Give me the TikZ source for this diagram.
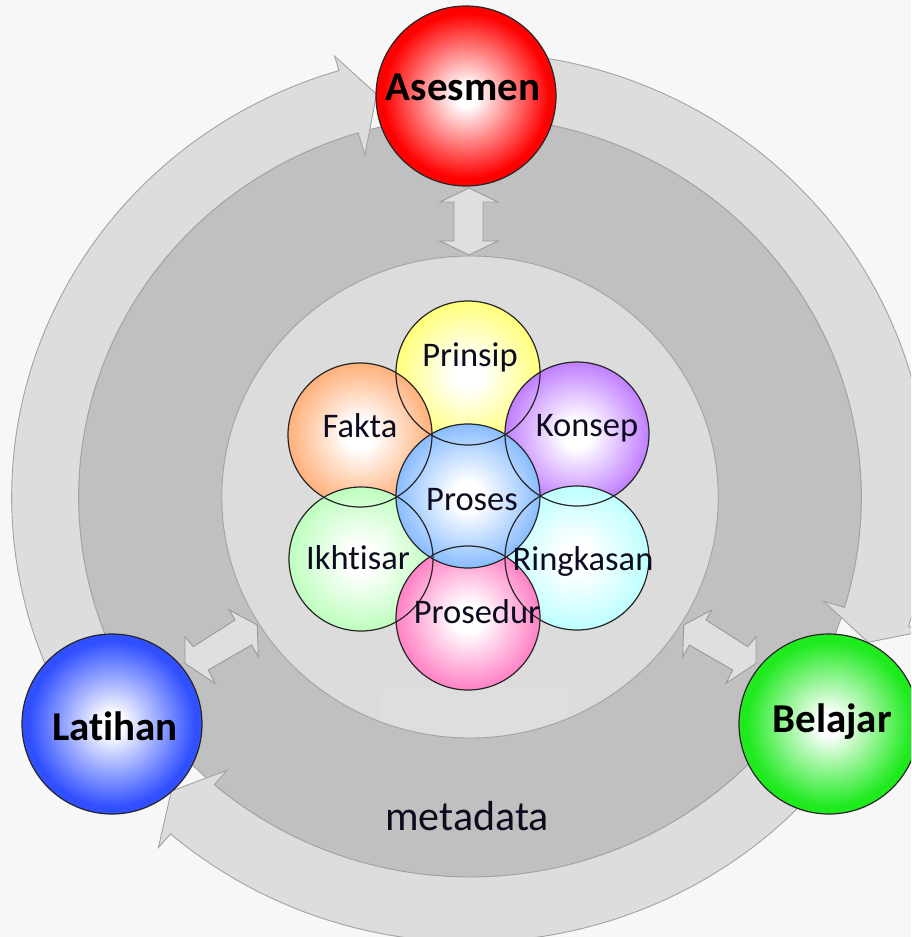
\documentclass[tikz,border=0pt]{standalone}
\usepackage{fontspec}
\setmainfont{Carlito}[Ligatures=NoCommon]
\definecolor{bgc}{HTML}{F7F7F7}
\definecolor{bandc}{HTML}{DDDDDD}
\definecolor{midc}{HTML}{C0C0C0}
\definecolor{innc}{HTML}{DCDCDC}
\definecolor{edgec}{HTML}{A2A2A2}
\definecolor{arrf}{HTML}{DFDFDF}
\definecolor{arre}{HTML}{999999}
\definecolor{redc}{HTML}{FF0000}
\definecolor{bluec}{HTML}{3050FF}
\definecolor{greenc}{HTML}{1EEA1E}
\definecolor{yelc}{HTML}{FFFF7A}
\definecolor{orac}{HTML}{FFB07A}
\definecolor{purc}{HTML}{C07EFF}
\definecolor{proc}{HTML}{88BCFF}
\definecolor{grnc}{HTML}{BEFFBE}
\definecolor{cyac}{HTML}{BEFFFF}
\definecolor{pinc}{HTML}{FF80C4}
\definecolor{txtc}{HTML}{0C0C1E}
\newcommand\mkshade[4]{\pgfdeclareradialshading{#1}{\pgfpoint{0bp}{0bp}}{color(0bp)=(white); color(#3bp)=(white); color(#4bp)=(#2); color(50bp)=(#2)}}
\mkshade{shred}{redc}{3}{23}
\mkshade{shblue}{bluec}{3}{23}
\mkshade{shgreen}{greenc}{3}{23}
\mkshade{shyel}{yelc}{5}{25}
\mkshade{shora}{orac}{5}{25}
\mkshade{shpur}{purc}{5}{25}
\mkshade{shpro}{proc}{5}{25}
\mkshade{shgrn}{grnc}{5}{25}
\mkshade{shcya}{cyac}{5}{25}
\mkshade{shpin}{pinc}{5}{25}
\begin{document}
\begin{tikzpicture}[x=1pt,y=-1pt,
  bandseg/.style={fill=bandc, draw=edgec, line width=0.9pt, line join=miter},
  dbl/.style={fill=arrf, draw=arre, line width=0.9pt, line join=miter},
  ball/.style={circle, minimum size=180pt, inner sep=0pt, draw=black!85, line width=1.2pt},
  bub/.style={circle, minimum size=144pt, inner sep=0pt},
  bubline/.style={draw=black!85, line width=1.2pt},
  bigtxt/.style={font=\fontsize{41}{42}\selectfont\bfseries, anchor=base, text=black, inner sep=0pt},
  smalltxt/.style={font=\fontsize{34.5}{35}\selectfont, anchor=base, text=txtc, inner sep=0pt},
  metatxt/.style={font=\fontsize{42}{43}\selectfont, anchor=base, text=txtc, inner sep=0pt}]
\useasboundingbox (0,0) rectangle (911,937);
\clip (0,0) rectangle (911,937);
\fill[bgc] (0,0) rectangle (911,937);
% rings and circular arrow band
\begin{scope}[shift={(470,497)}, xscale=1.03, yscale=-1]
  \path[fill=midc, draw=edgec, line width=0.9pt] (0,0) circle[radius=380];
  % segment 1: Latihan -> Asesmen
  \path[bandseg] (213:445) arc[start angle=213, end angle=106.6, radius=445]
     -- (106.6:460) -- (102.7:413) -- (106.6:357) -- (106.6:380)
     arc[start angle=106.6, end angle=213, radius=380] -- cycle;
  % segment 2: Asesmen -> Belajar
  \path[bandseg] (90:445) arc[start angle=90, end angle=-16.9, radius=445]
     -- (-16.9:461) -- (-20.6:413) -- (-16.9:359) -- (-16.9:380)
     arc[start angle=-16.9, end angle=90, radius=380] -- cycle;
  % segment 3: Belajar -> Latihan
  \path[bandseg] (327:445) arc[start angle=327, end angle=229.2, radius=445]
     -- (229.2:463) -- (225.4:413) -- (229.2:361) -- (229.2:380)
     arc[start angle=229.2, end angle=327, radius=380] -- cycle;
  \path[fill=innc, draw=edgec, line width=0.9pt] (0,0) circle[radius=241];
  \begin{scope}
    \clip (0,0) circle[radius=240];
    \fill[fill=white, opacity=0.06] (-87,-193) rectangle (95,-260);
  \end{scope}
\end{scope}
% double arrows
\path[dbl] (469,188) -- (498,202) -- (483,202) -- (483,241) -- (498,241) -- (469,255)
   -- (440,241) -- (454,241) -- (454,202) -- (440,202) -- cycle;
\path[dbl] (229.3,610) -- (257.3,625) -- (258.3,656.7) -- (251.7,645) -- (208.3,670)
   -- (215,683.3) -- (185,663.3) -- (185,636.7) -- (193.3,646.7) -- (235,620) -- cycle;
\begin{scope}[shift={(941,0)}, xscale=-1]
\path[dbl] (229.3,610) -- (257.3,625) -- (258.3,656.7) -- (251.7,645) -- (208.3,670)
   -- (215,683.3) -- (185,663.3) -- (185,636.7) -- (193.3,646.7) -- (235,620) -- cycle;
\end{scope}
% central bubbles
\node[bub, shading=shyel] (prinsip) at (468,373) {};
\node[bub, shading=shora] (fakta) at (360,435) {};
\node[bub, shading=shpur] (konsep) at (577,434) {};
\node[bub, shading=shgrn] (ikhtisar) at (361,559) {};
\node[bub, shading=shcya] (ringkasan) at (577,558) {};
\node[bub, shading=shpin] (prosedur) at (468,618) {};
\node[bub, shading=shpro] (proses) at (468,496) {};
\foreach \n in {prinsip,fakta,konsep,ikhtisar,ringkasan,prosedur,proses}
  \draw[bubline] (\n.center) circle[radius=72];
\node[smalltxt] (tprinsip) at (470,366) {Prinsip};
\node[smalltxt] (tfakta) at (360,437) {Fakta};
\node[smalltxt] (tkonsep) at (587,436) {Konsep};
\node[smalltxt] (tproses) at (472,510) {Proses};
\node[smalltxt] (tikhtisar) at (358,569) {Ikhtisar};
\node[smalltxt] (tringkasan) at (583,570) {Ringkasan};
\node[smalltxt] (tprosedur) at (477,623) {Prosedur};
% big circles
\node[ball, shading=shred] (ases) at (466,96) {};
\node[ball, shading=shblue] (lat) at (112,724) {};
\node[ball, shading=shgreen] (bel) at (829,724) {};
\node[bigtxt] (tases) at (463,100) {Asesmen};
\node[bigtxt] (tlat) at (115,740) {Latihan};
\node[bigtxt] (tbel) at (832,732) {Belajar};
\node[metatxt] (tmeta) at (467,830) {metadata};
\end{tikzpicture}
\end{document}
